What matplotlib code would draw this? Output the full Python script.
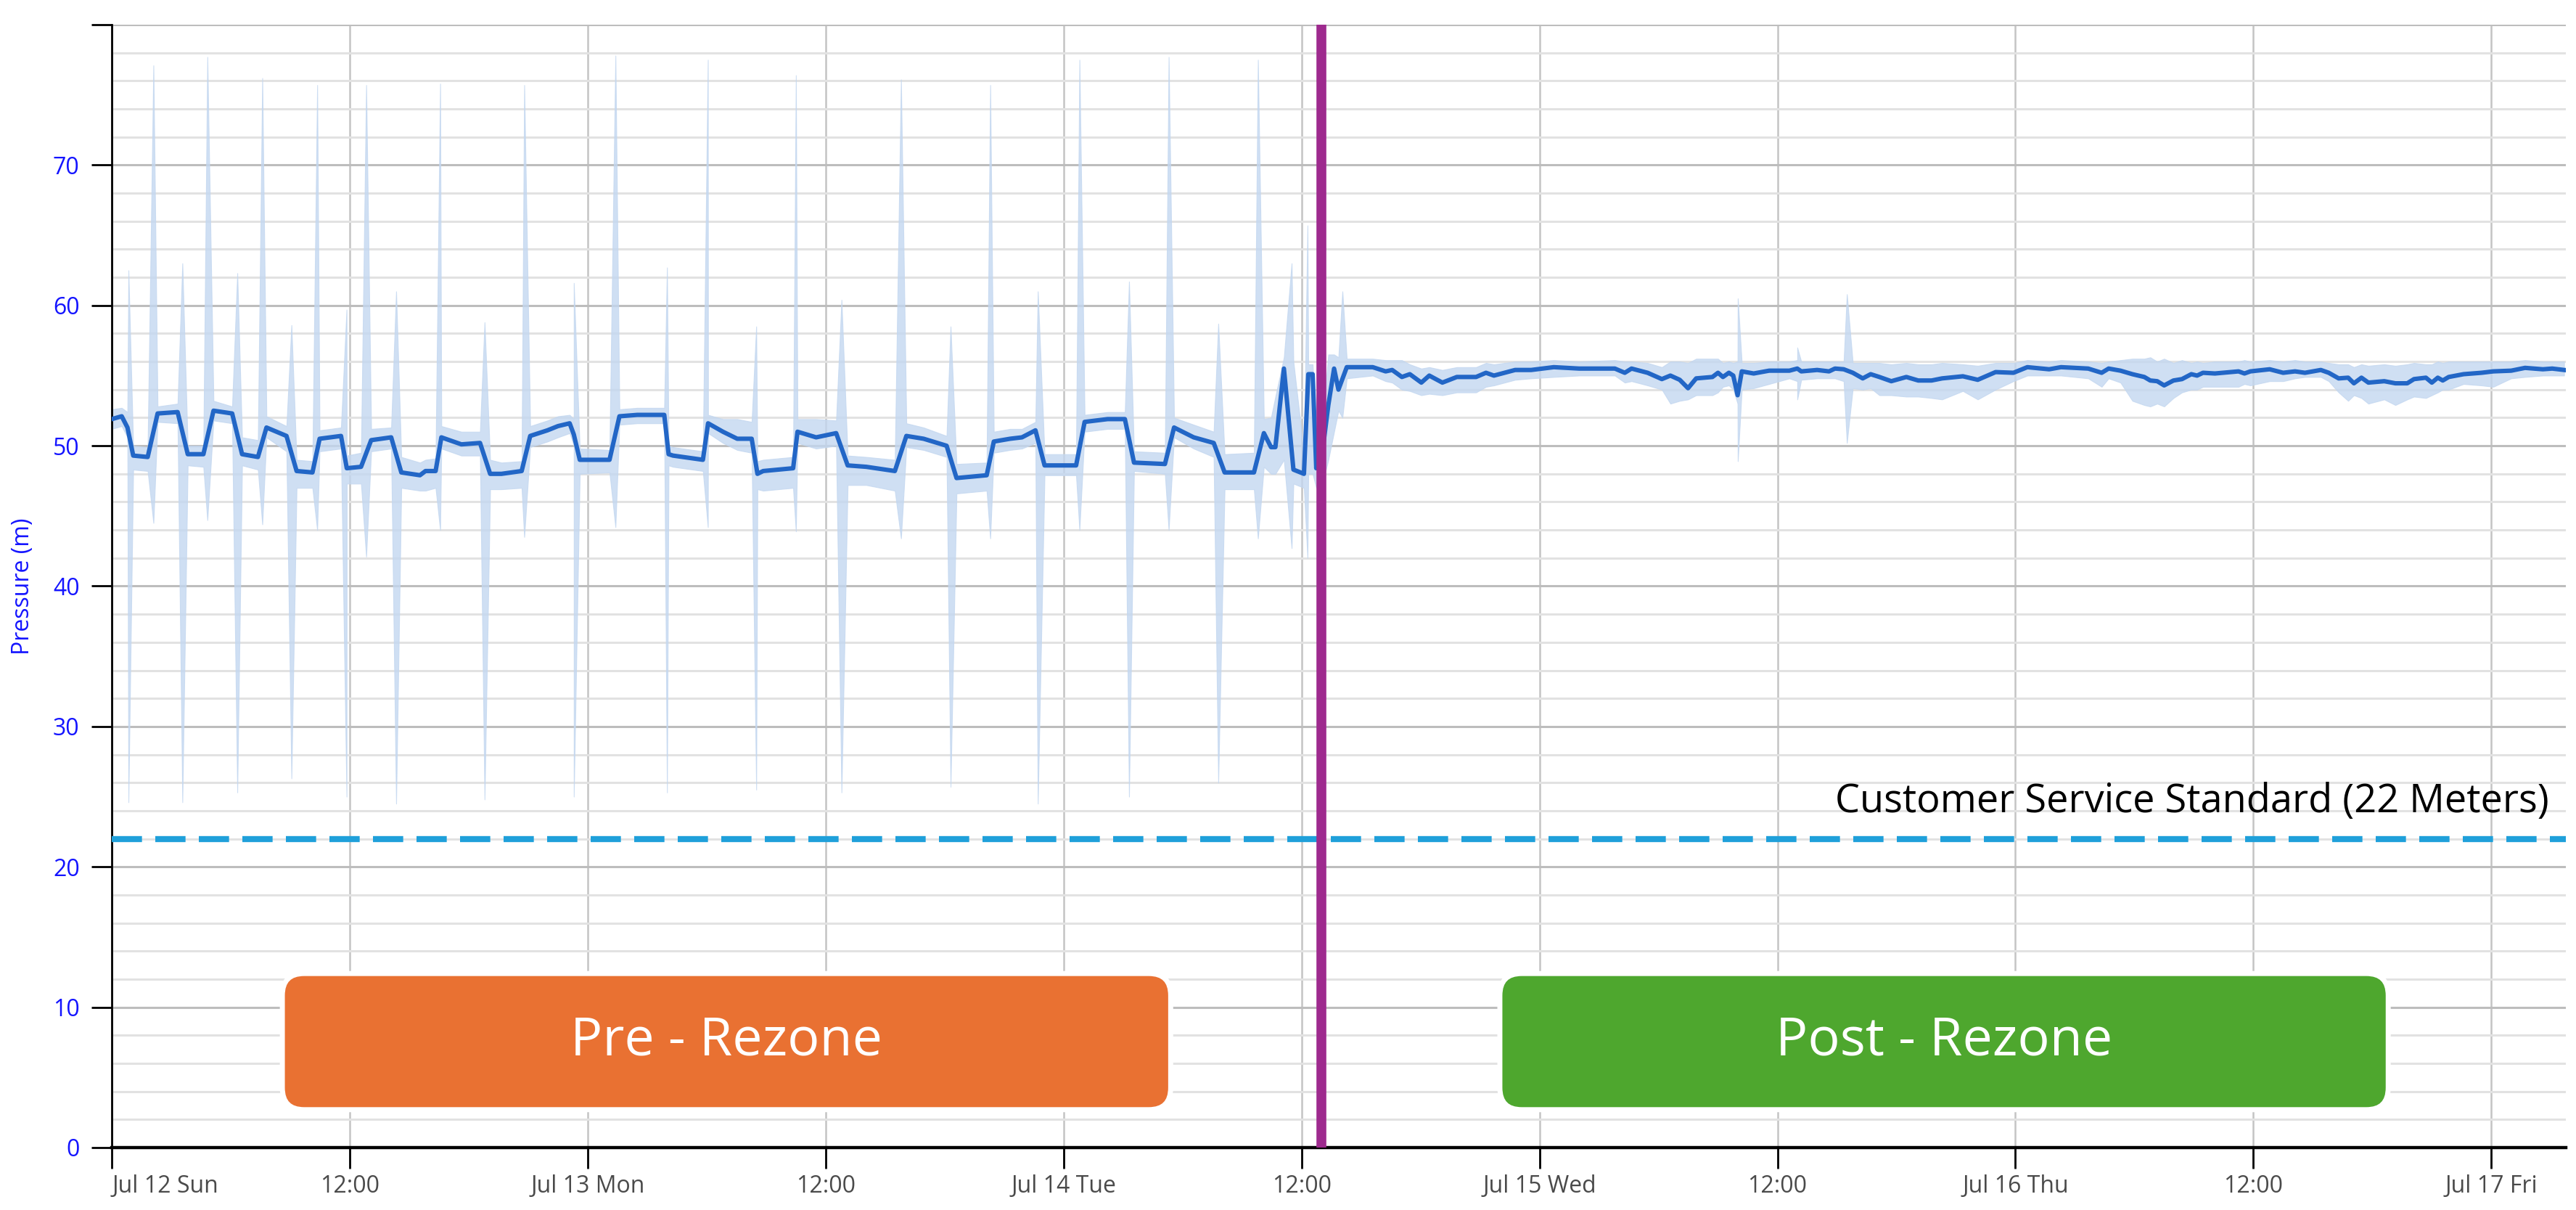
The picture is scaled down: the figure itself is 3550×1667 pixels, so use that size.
import numpy as np
import matplotlib
matplotlib.use('Agg')
import matplotlib.pyplot as plt
from matplotlib.patches import FancyBboxPatch
from matplotlib.ticker import MultipleLocator

plt.rcParams['font.family'] = ['Open Sans', 'DejaVu Sans']

# Datos: horas desde Jul 12 00:00
t = [0.0, 0.5, 0.79, 1.08, 1.81, 2.31, 3.32, 3.83, 4.62, 5.13, 6.07, 6.57, 7.37, 7.8, 8.81,
     9.32, 10.12, 10.48, 11.56, 11.85, 12.57, 13.08, 14.09, 14.6, 15.54, 15.82, 16.33, 16.62,
     17.63, 18.57, 19.08, 19.65, 20.67, 21.1, 21.97, 22.5, 23.09, 23.3, 23.6, 25.1, 25.6, 26.5,
     27.86, 28.08, 28.3, 29.81, 30.07, 30.82, 31.54, 32.27, 32.56, 32.85, 34.36, 34.58, 35.52,
     36.53, 37.11, 38.05, 39.49, 40.07, 40.94, 42.1, 42.6, 44.12, 44.48, 45.3, 45.9, 46.58,
     47.04, 48.63, 49.06, 50.22, 51.09, 51.55, 53.11, 53.57, 54.56, 55.57, 56.12, 57.6, 58.1,
     58.46, 58.68, 59.11, 59.59, 60.12, 60.34, 60.56, 60.74, 60.8, 60.9, 61.0,
     61.35, 61.64, 61.86, 62.28, 63.59, 64.24, 64.57, 65.06, 65.46, 66.04, 66.44, 67.1, 67.83,
     68.8, 69.3, 69.7, 70.77, 71.58, 72.72, 74.0, 75.8, 76.3, 76.64, 77.45, 78.17, 78.6, 79.07,
     79.49, 79.9, 80.72, 81.0, 81.25, 81.55, 81.77, 81.99, 82.2, 82.8, 83.58, 84.6, 85.0, 85.2,
     86.0, 86.6, 86.9, 87.34, 87.8, 88.3, 88.7, 89.14, 89.74, 90.5, 91.1, 91.77, 92.3, 93.35,
     94.1, 95.0, 95.9, 96.6, 97.7, 98.3, 99.67, 100.35, 100.7, 101.3, 101.9, 102.5, 102.8,
     103.15, 103.5, 103.97, 104.4, 104.87, 105.16, 105.46, 106.06, 107.25, 107.55, 107.85,
     108.82, 109.5, 110.1, 110.6, 111.4, 111.8, 112.3, 112.78, 113.07, 113.45, 113.8, 114.6,
     115.16, 115.76, 116.1, 116.7, 117.0, 117.3, 117.55, 117.85, 118.6, 119.5, 120.1, 121.0,
     121.7, 122.6, 123.07, 123.67]

presion = [51.9, 52.1, 51.3, 49.3, 49.2, 52.3, 52.4, 49.4, 49.4, 52.5, 52.3, 49.4, 49.2, 51.3, 50.7,
           48.2, 48.1, 50.5, 50.7, 48.4, 48.5, 50.4, 50.6, 48.1, 47.9, 48.2, 48.2, 50.6,
           50.1, 50.2, 48.0, 48.0, 48.2, 50.7, 51.1, 51.4, 51.6, 50.8, 49.0, 49.0, 52.1, 52.2,
           52.2, 49.4, 49.3, 49.0, 51.6, 51.0, 50.5, 50.5, 48.0, 48.2, 48.4, 51.0, 50.6,
           50.9, 48.6, 48.5, 48.2, 50.7, 50.5, 50.0, 47.7, 47.9, 50.3, 50.5, 50.6, 51.1,
           48.6, 48.6, 51.7, 51.9, 51.9, 48.8, 48.7, 51.3, 50.6, 50.2, 48.1, 48.1, 50.9,
           49.9, 49.9, 55.5, 48.3, 48.0, 55.1, 55.1, 48.4, 49.2, 48.4, 49.0,
           52.9, 55.5, 54.0, 55.6, 55.6, 55.3, 55.4, 54.9, 55.1, 54.5, 55.0, 54.5, 54.9,
           54.9, 55.2, 55.0, 55.4, 55.4, 55.6, 55.5, 55.5, 55.2, 55.5, 55.2, 54.75, 55.0, 54.7,
           54.1, 54.8, 54.9, 55.2, 54.9, 55.2, 55.0, 53.6, 55.3, 55.15, 55.35, 55.35, 55.5, 55.3,
           55.4, 55.3, 55.5, 55.45, 55.2, 54.8, 55.1, 54.9, 54.6, 54.9, 54.65, 54.65, 54.8, 54.95,
           54.7, 55.25, 55.2, 55.6, 55.45, 55.6, 55.5, 55.2, 55.5, 55.35, 55.1, 54.9, 54.65,
           54.6, 54.3, 54.65, 54.75, 55.1, 55.0, 55.2, 55.15, 55.3, 55.15, 55.3,
           55.45, 55.2, 55.3, 55.2, 55.4, 55.2, 54.8, 54.85, 54.45, 54.85, 54.5, 54.6,
           54.45, 54.45, 54.75, 54.85, 54.5, 54.85, 54.65, 54.9, 55.1, 55.2, 55.3, 55.35,
           55.55, 55.45, 55.5, 55.4]

banda_max = [52.6, 52.7, 52.4, 50.0, 49.9, 52.8, 53.0, 50.0, 50.0, 53.2, 52.8, 50.6, 50.4, 52.1, 51.4,
             49.0, 48.9, 51.1, 51.3, 49.3, 49.5, 51.2, 51.3, 49.2, 48.8, 49.0, 49.1, 51.4,
             51.0, 51.0, 49.0, 48.8, 48.9, 51.4, 51.8, 52.1, 52.2, 51.9, 49.8, 49.7, 52.6, 52.7,
             52.7, 50.0, 49.9, 49.6, 52.2, 51.9, 51.9, 51.7, 48.9, 49.0, 49.2, 51.9, 51.9,
             51.8, 49.3, 49.2, 49.0, 51.6, 51.3, 50.7, 48.7, 48.8, 51.0, 51.2, 51.2, 51.7,
             49.4, 49.4, 52.2, 52.4, 52.4, 49.6, 49.5, 52.0, 51.5, 51.0, 49.4, 49.5, 51.9,
             52.0, 53.5, 56.3, 56.0, 49.5, 55.8, 55.8, 51.0, 51.0, 50.8, 51.0,
             56.5, 56.5, 56.3, 56.2, 56.2, 56.1, 56.1, 56.1, 55.8, 55.5, 55.6, 55.4, 55.6,
             55.6, 55.9, 55.8, 56.0, 56.0, 56.1, 56.0, 56.1, 56.0, 56.0, 55.9, 55.6, 56.0, 56.0,
             55.9, 56.2, 56.2, 56.2, 55.9, 56.0, 55.9, 56.0, 55.9, 55.9, 56.0, 56.0, 56.1, 56.0,
             56.0, 56.0, 56.0, 56.0, 55.9, 55.9, 55.9, 55.9, 55.8, 55.9, 55.8, 55.8, 55.9, 55.8,
             55.7, 55.9, 55.9, 56.1, 56.0, 56.1, 56.0, 55.9, 56.0, 56.1, 56.2, 56.2, 56.3,
             56.0, 56.2, 55.9, 56.1, 55.9, 56.0, 55.9, 56.0, 56.0, 56.1, 56.0,
             56.1, 56.0, 56.1, 56.0, 56.0, 55.9, 55.8, 55.8, 55.6, 55.8, 55.7, 55.8,
             55.7, 55.8, 55.9, 55.8, 55.8, 56.0, 55.9, 56.0, 56.0, 56.0, 56.0, 56.0,
             56.1, 56.0, 56.0, 56.0]

banda_min = [51.2, 51.4, 50.6, 48.3, 48.2, 51.7, 51.6, 48.6, 48.5, 51.8, 51.6, 48.6, 48.3, 50.6, 49.6,
             47.0, 47.0, 49.6, 49.8, 47.3, 47.3, 49.6, 49.8, 47.0, 46.8, 46.8, 47.0, 49.8,
             49.3, 49.3, 46.9, 46.9, 47.0, 49.9, 50.3, 50.6, 50.9, 50.0, 48.0, 48.1, 51.5, 51.6,
             51.6, 48.6, 48.5, 48.2, 50.9, 50.2, 49.7, 49.5, 46.9, 46.8, 47.0, 50.2, 49.8,
             50.0, 47.2, 47.2, 46.8, 49.9, 49.7, 49.2, 46.6, 46.8, 49.5, 49.7, 49.8, 50.2,
             47.9, 47.9, 51.0, 51.2, 51.2, 48.2, 48.0, 50.6, 49.8, 49.2, 46.9, 46.9, 48.5,
             48.0, 48.0, 49.0, 47.3, 47.0, 48.0, 48.0, 47.0, 47.5, 47.3, 47.0,
             49.0, 51.0, 52.5, 54.8, 55.0, 54.6, 54.5, 54.0, 53.9, 53.6, 53.7, 53.6, 53.8,
             53.8, 54.2, 54.3, 54.7, 54.8, 54.9, 55.0, 55.0, 54.5, 54.6, 54.3, 54.0, 53.0, 53.2,
             53.3, 53.6, 53.6, 53.8, 54.2, 54.3, 54.0, 53.0, 54.0, 54.1, 54.4, 54.8, 54.6, 54.7,
             54.8, 54.8, 54.8, 54.6, 54.1, 54.0, 54.1, 53.6, 53.6, 53.5, 53.5, 53.4, 53.3, 53.9,
             53.3, 54.0, 54.6, 55.0, 55.0, 55.0, 54.8, 54.2, 54.8, 54.5, 53.2, 52.9, 52.8,
             53.0, 52.8, 53.4, 53.8, 54.0, 54.0, 54.2, 54.2, 54.2, 54.4, 54.3,
             54.6, 54.6, 54.8, 54.9, 54.9, 54.6, 53.8, 53.2, 53.6, 53.4, 53.0, 53.3,
             52.9, 53.3, 53.5, 53.4, 53.6, 53.8, 54.0, 54.0, 54.4, 54.3, 54.2, 54.8,
             54.9, 55.0, 55.0, 55.0]

# Picos de la banda (hora, max, min)
pico_t = [0.84, 2.1, 3.56, 4.82, 6.33, 7.59, 9.06, 10.36, 11.84, 12.83, 14.34, 16.56, 18.8, 20.8,
          23.3, 25.4, 28.0, 30.06, 32.5, 34.5, 36.8, 39.8, 42.3, 44.3, 46.7, 48.8, 51.3, 53.3,
          55.8, 57.8, 59.5, 60.3, 62.06, 82.0, 85.0, 87.5]
pico_max = [62.5, 77.1, 63.0, 77.7, 62.3, 76.2, 58.6, 75.7, 59.7, 75.7, 61.0, 75.8, 58.8, 75.7,
            61.6, 77.8, 62.7, 77.5, 58.5, 76.4, 60.4, 76.1, 58.5, 75.7, 61.0, 77.5, 61.7, 77.7,
            58.7, 77.5, 63.0, 65.7, 61.0, 60.5, 57.0, 60.8]
pico_min = [24.6, 44.5, 24.6, 44.7, 25.3, 44.4, 26.3, 44.0, 25.0, 42.1, 24.5, 44.0, 24.8, 43.5,
            25.0, 44.2, 25.3, 44.2, 25.5, 43.9, 25.3, 43.4, 25.7, 43.4, 24.5, 44.0, 25.0, 44.0,
            26.0, 43.4, 42.7, 42.0, 52.0, 48.9, 53.3, 50.2]

etiquetas_x = ['Jul 12 Sun', '12:00', 'Jul 13 Mon', '12:00', 'Jul 14 Tue', '12:00',
               'Jul 15 Wed', '12:00', 'Jul 16 Thu', '12:00', 'Jul 17 Fri']
estandar = 22
rezone_t = 61.0
cajas = [('Pre - Rezone', 8.6, 53.4, '#E97132'), ('Post - Rezone', 70.0, 114.8, '#4EA72E')]
caja_y0, caja_y1 = 2.7, 12.4

# Banda con picos
bt = np.concatenate([t, pico_t])
bmax = np.concatenate([banda_max, pico_max])
bmin = np.concatenate([banda_min, pico_min])
orden = np.argsort(bt, kind='stable')
bt, bmax, bmin = bt[orden], bmax[orden], bmin[orden]

clr_linea = '#2266C6'
clr_banda = '#C3D7F0'
clr_est = '#1FA0DA'
clr_rez = '#9E2A8E'

fig = plt.figure(figsize=(17.75, 8.335), dpi=200)
ax = fig.add_axes([0.0434, 0.0516, 0.9526, 0.928])

ax.fill_between(bt, bmin, bmax, color=clr_banda, alpha=0.8, linewidth=0.4,
                edgecolor=clr_banda, zorder=2)
ax.plot(t, presion, '-', color=clr_linea, linewidth=2.2, zorder=3)
ax.axhline(estandar, color=clr_est, linewidth=3.0, dashes=(5, 2.2), zorder=4)
ax.axvline(rezone_t, color=clr_rez, linewidth=4.9, zorder=6)

ax.text(122.9, estandar + 1.2, 'Customer Service Standard (22 Meters)', ha='right',
        va='bottom', fontsize=19.5, color='black', zorder=5)

asp = 27.36 / 19.27
for txt, x0, x1, clr in cajas:
    caja = FancyBboxPatch((x0, caja_y0), x1 - x0, caja_y1 - caja_y0,
                          boxstyle='round,pad=0,rounding_size=1.1', mutation_aspect=asp,
                          facecolor=clr, edgecolor='white', linewidth=2.5, zorder=5)
    ax.add_patch(caja)
    ax.text((x0 + x1) / 2, (caja_y0 + caja_y1) / 2, txt, ha='center', va='center',
            fontsize=26.5, color='white', zorder=6)

ax.set_xlim(0, 123.75)
ax.set_ylim(0, 80)
ax.set_xticks(np.arange(0, 121, 12))
ax.set_xticklabels(etiquetas_x)
ax.get_xticklabels()[0].set_horizontalalignment('left')
ax.set_yticks(np.arange(0, 81, 10))
ax.set_yticklabels([str(v) for v in range(0, 71, 10)] + [''])
ax.yaxis.set_minor_locator(MultipleLocator(2))

ax.grid(True, axis='x', which='major', color='#C4C4C4', linewidth=0.9, zorder=0)
ax.grid(True, axis='y', which='major', color='#BDBDBD', linewidth=1.1, zorder=0)
ax.grid(True, axis='y', which='minor', color='#E2E2E2', linewidth=1.1, zorder=0)
ax.set_axisbelow(True)

for s in ['top', 'right']:
    ax.spines[s].set_visible(False)
ax.spines['left'].set_linewidth(1.0)
ax.spines['bottom'].set_linewidth(1.6)
ax.tick_params(axis='y', which='major', length=10, width=1.0, pad=6,
               labelsize=11.5, labelcolor='#1414FF', color='black')
ax.tick_params(axis='y', which='minor', length=0)
ax.tick_params(axis='x', which='major', length=10.5, width=1.0, pad=3,
               labelsize=11.5, labelcolor='#4A4A4A', color='black')
ax.set_ylabel('Pressure (m)', color='#1414FF', fontsize=11.5, labelpad=9)

fig.savefig('out.png', dpi=200)
